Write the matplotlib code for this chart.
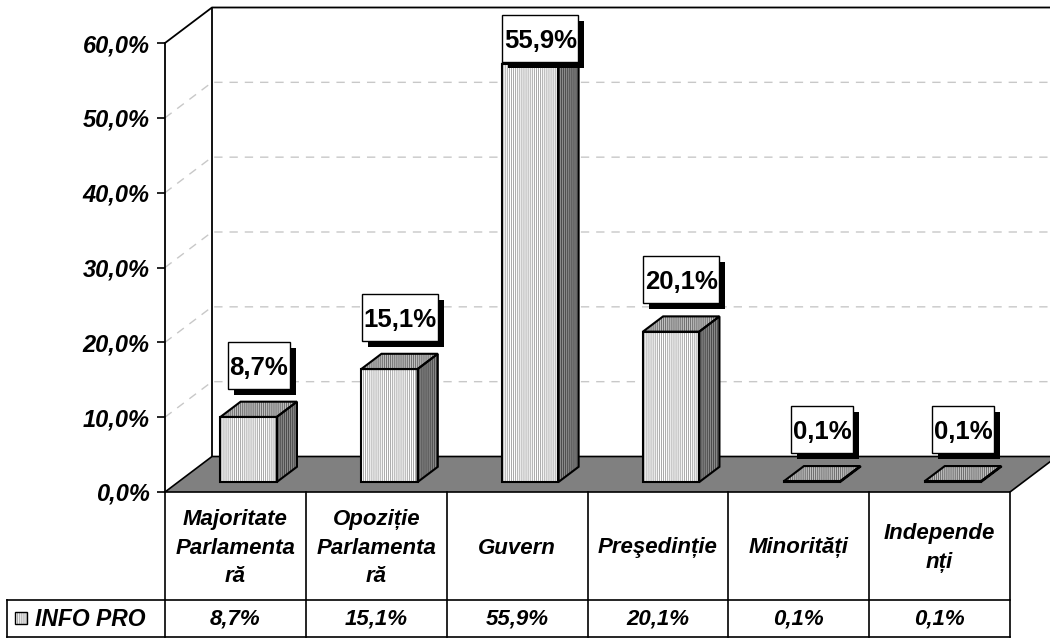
import matplotlib
matplotlib.use("Agg")
import matplotlib.pyplot as plt
from matplotlib.patches import Polygon, Rectangle
from matplotlib.ticker import FuncFormatter
from matplotlib.transforms import ScaledTranslation

plt.rcParams['font.family'] = ['Liberation Sans', 'DejaVu Sans']
plt.rcParams['hatch.linewidth'] = 0.6

# date
categorii = ["Majoritate\nParlamenta\nră", "Opoziție\nParlamenta\nră", "Guvern",
             "Preşedinție", "Minorități", "Independe\nnți"]
valori = [8.7, 15.1, 55.9, 20.1, 0.1, 0.1]
etichete = ["8,7%", "15,1%", "55,9%", "20,1%", "0,1%", "0,1%"]
serie = "INFO PRO"
y_ticks = [0, 10, 20, 30, 40, 50, 60]

W, H, DPI = 1050, 643, 100
fig = plt.figure(figsize=(W / DPI, H / DPI), dpi=DPI)

# zona grafic (x: 165..1010 px, y: 0% la 492 px, 60% la 43 px)
ax = fig.add_axes([165 / W, (H - 492) / H, 845 / W, 449 / H])
n = len(categorii)
ax.set_xlim(0, n)
ax.set_ylim(0, 60)
for s in ['top', 'right', 'bottom']:
    ax.spines[s].set_visible(False)
ax.spines['left'].set_linewidth(1.3)
ax.set_xticks([])
ax.set_yticks(y_ticks)
ax.yaxis.set_major_formatter(FuncFormatter(lambda v, p: f"{v:.1f}%".replace('.', ',')))
ax.tick_params(axis='y', length=6, width=1.2, pad=5, labelsize=17)
for t in ax.get_yticklabels():
    t.set_fontweight('bold')
    t.set_fontstyle('italic')
ax.patch.set_visible(False)

# adancime 3D (in unitati de date)
DX = n * 47 / 845
DY = 60 * 35.5 / 449

# perete spate + lateral
ax.plot([0, DX, n + DX + 1], [60, 60 + DY, 60 + DY], color='black', lw=1.3, clip_on=False, zorder=2)
ax.plot([DX, DX], [DY, 60 + DY], color='black', lw=1.3, clip_on=False, zorder=2)
for v in y_ticks[1:-1]:
    ax.plot([0, DX, n + DX + 1], [v, v + DY, v + DY], color='#c8c8c8', lw=1.0,
            dashes=(6, 5), clip_on=False, zorder=1)

# podea
ax.add_patch(Polygon([(0, 0), (n, 0), (n + DX, DY), (DX, DY)], closed=True,
                     facecolor='#808080', edgecolor='black', lw=1.2, clip_on=False, zorder=3))


def fata(pts, fc, hc):
    ax.add_patch(Polygon(pts, closed=True, facecolor=fc, edgecolor='none', lw=0,
                         clip_on=False, zorder=4))
    ax.add_patch(Polygon(pts, closed=True, facecolor='none', edgecolor=hc, lw=0,
                         hatch='|' * 8, clip_on=False, zorder=4))
    ax.add_patch(Polygon(pts, closed=True, facecolor='none', edgecolor='black', lw=1.5,
                         joinstyle='miter', clip_on=False, zorder=5))


hw = 0.2
d0, d1 = 0.28, 0.71
for i, v in enumerate(valori):
    c = i + 0.5
    x0, x1 = c - hw + d0 * DX, c + hw + d0 * DX
    b0, b1 = d0 * DY, d1 * DY
    e = (d1 - d0) * DX
    fata([(x0, b0), (x1, b0), (x1, b0 + v), (x0, b0 + v)], 'white', '#9a9a9a')
    fata([(x1, b0), (x1 + e, b1), (x1 + e, b1 + v), (x1, b0 + v)], '#8a8a8a', '#404040')
    fata([(x0, b0 + v), (x1, b0 + v), (x1 + e, b1 + v), (x0 + e, b1 + v)], '#c0c0c0', '#606060')

# etichete cu umbra
dm = (d0 + d1) / 2
for i, (v, lab) in enumerate(zip(valori, etichete)):
    lx = i + 0.5 + dm * DX
    ly = min(v + dm * DY + 5.9, 60.6)
    w = 14 * len(lab) + 6
    h = 47
    tr = fig.dpi_scale_trans + ScaledTranslation(lx, ly, ax.transData)
    ax.add_patch(Rectangle(((-w / 2 + 6) / DPI, (-h / 2 - 6) / DPI), w / DPI, h / DPI,
                           transform=tr, facecolor='black', edgecolor='none',
                           clip_on=False, zorder=6))
    ax.add_patch(Rectangle((-w / 2 / DPI, -h / 2 / DPI), w / DPI, h / DPI,
                           transform=tr, facecolor='white', edgecolor='black', lw=1.0,
                           clip_on=False, zorder=7))
    ax.text(lx, ly, lab, ha='center', va='center_baseline', fontsize=18.5, fontweight='bold',
            zorder=8, clip_on=False)

# tabel de date
x_left = (7 - 165) / (845 / n)
tab = fig.add_axes([7 / W, (H - 637) / H, 1003 / W, 145 / H])
tab.set_xlim(x_left, n)
tab.set_ylim(145, 0)
tab.axis('off')
lk = dict(color='black', lw=1.2, clip_on=False)
for i in range(n + 1):
    tab.plot([i, i], [0, 145], **lk)
tab.plot([x_left, x_left], [108, 145], **lk)
tab.plot([x_left, n], [108, 108], **lk)
tab.plot([x_left, n], [145, 145], **lk)

for i, cat in enumerate(categorii):
    tab.text(i + 0.5, 56, cat, ha='center', va='center', fontsize=16, fontweight='bold',
             fontstyle='italic', linespacing=1.45)
    tab.text(i + 0.5, 127, etichete[i], ha='center', va='center', fontsize=16,
             fontweight='bold', fontstyle='italic')

px = 845 / n
tab.add_patch(Rectangle(((15 - 165) / px, 132), 12 / px, -12, facecolor='white',
                        edgecolor='#8a8a8a', hatch='|' * 8, lw=0, clip_on=False))
tab.add_patch(Rectangle(((15 - 165) / px, 132), 12 / px, -12, facecolor='none',
                        edgecolor='black', lw=1.0, clip_on=False))
tab.text((35 - 165) / px, 127, serie, ha='left', va='center', fontsize=16.5,
         fontweight='bold', fontstyle='italic')

fig.savefig('out.png', dpi=DPI)
